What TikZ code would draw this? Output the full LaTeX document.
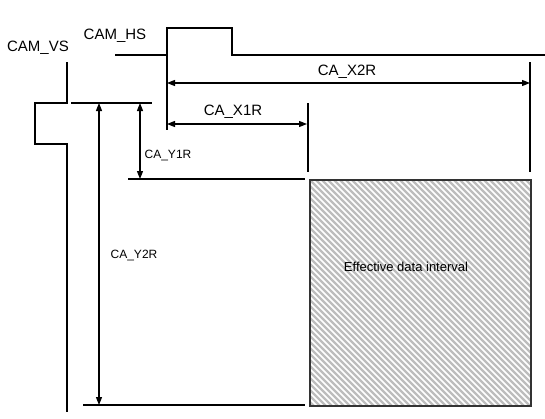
\documentclass[tikz,border=0pt]{standalone}
\usepackage{fontspec}
\setmainfont{Liberation Sans}
\usetikzlibrary{arrows.meta}
\definecolor{hatch}{HTML}{BDBDBD}
\definecolor{frame}{HTML}{333333}
\begin{document}
\begin{tikzpicture}[x=1pt,y=-1pt,
  sig/.style={line width=1.3pt, black},
  dimarrow/.style={line width=1.3pt, black, {Triangle[length=8pt,width=6pt]}-{Triangle[length=8pt,width=6pt]}},
  lbl/.style={font=\fontsize{15}{17}\selectfont, inner sep=0pt},
  lbly/.style={font=\fontsize{12}{14}\selectfont, inner sep=0pt},
  lbla/.style={font=\fontsize{13}{15}\selectfont, inner sep=0pt},
  ]
\useasboundingbox (0,0) rectangle (545,418);
\fill[white] (0,0) rectangle (545,418);

% key coordinates
\coordinate (hs0) at (115,55);
\coordinate (hs1) at (167,55);
\coordinate (hs2) at (167,28);
\coordinate (hs3) at (232,28);
\coordinate (hs4) at (232,55);
\coordinate (hs5) at (545,55);
\coordinate (hsdown) at (167,130);

\coordinate (vs0) at (67,62);
\coordinate (vs1) at (67,103);
\coordinate (vs2) at (35,103);
\coordinate (vs3) at (35,144);
\coordinate (vs4) at (67,144);
\coordinate (vs5) at (67,412);

\coordinate (ytopL) at (71,103);
\coordinate (ytopR) at (152,103);
\coordinate (y1L) at (128,179);
\coordinate (y1R) at (305,179);
\coordinate (y2L) at (83,405);
\coordinate (y2R) at (305,405);

\coordinate (x1top) at (308,103);
\coordinate (x1bot) at (308,172);
\coordinate (x2top) at (530,62);
\coordinate (x2bot) at (530,172);

\coordinate (ax2L) at (167,83);
\coordinate (ax2R) at (530,83);
\coordinate (ax1L) at (167,124);
\coordinate (ax1R) at (307,124);
\coordinate (ay1T) at (140,103);
\coordinate (ay1B) at (140,179);
\coordinate (ay2T) at (99,103);
\coordinate (ay2B) at (99,405);

% hatched effective data area
\begin{scope}
  \clip (309,179) rectangle (530,405);
  \foreach \c in {-110,-104,...,370} {
    \draw[hatch, line width=2.4pt] (\c+160,160) -- (\c+430,430);
  }
\end{scope}
\node[draw=frame, line width=1.8pt, minimum width=221pt, minimum height=226pt,
      inner sep=0pt, anchor=north west] (area) at (309,179) {};
\node[lbla] (areatxt) at (406,267) {Effective data interval};

% signals
\draw[sig] (hs0) -- (hs1) -- (hs2) -- (hs3) -- (hs4) -- (hs5);
\draw[sig] (hs1) -- (hsdown);
\draw[sig] (vs0) -- (vs1) -- (vs2) -- (vs3) -- (vs4) -- (vs5);

% reference lines
\draw[sig] (ytopL) -- (ytopR);
\draw[sig] (y1L) -- (y1R);
\draw[sig] (y2L) -- (y2R);
\draw[sig] (x1top) -- (x1bot);
\draw[sig] (x2top) -- (x2bot);

% dimension arrows
\draw[dimarrow] (ax2L) -- (ax2R);
\draw[dimarrow] (ax1L) -- (ax1R);
\draw[dimarrow] (ay1T) -- (ay1B);
\draw[dimarrow] (ay2T) -- (ay2B);

% labels
\node[lbl] (camvs) at (38,48) {CAM\_VS};
\node[lbl] (camhs) at (115,36) {CAM\_HS};
\node[lbl] (cax2r) at (347,72) {CA\_X2R};
\node[lbl] (cax1r) at (233,112) {CA\_X1R};
\node[lbly] (cay1r) at (168,155) {CA\_Y1R};
\node[lbly] (cay2r) at (134,255) {CA\_Y2R};
\end{tikzpicture}
\end{document}
